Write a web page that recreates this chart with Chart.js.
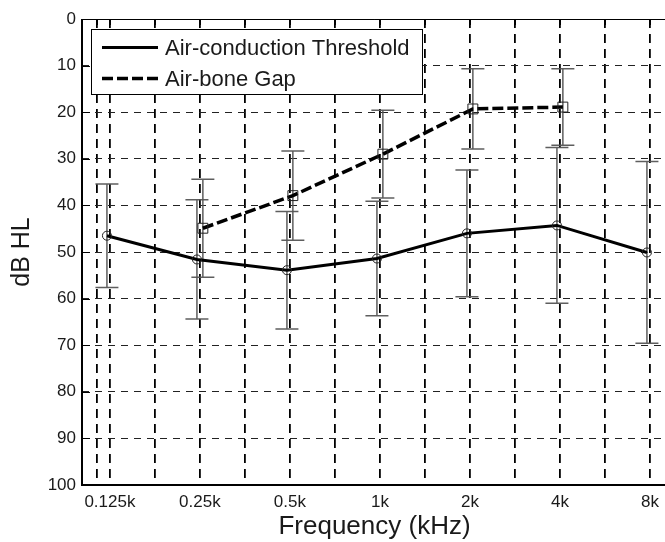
<!DOCTYPE html>
<html>
<head>
<meta charset="utf-8">
<title>Audiogram</title>
<script src="https://cdn.jsdelivr.net/npm/chart.js@4.4.0/dist/chart.umd.min.js"></script>
<style>
  html, body { margin: 0; padding: 0; overflow: hidden; background: #fff; }
</style>
</head>
<body>
<canvas id="audiogram" width="675" height="542"></canvas>
<script>
// frequencies on an octave axis: index 0 = 0.125 kHz ... 6 = 8 kHz
const frequencies = ['0.125k', '0.25k', '0.5k', '1k', '2k', '4k', '8k'];
const dbTicks = [0, 10, 20, 30, 40, 50, 60, 70, 80, 90, 100];

// air-conduction threshold, mean and standard deviation (dB HL)
const acMean = [46.5, 51.6, 53.9, 51.4, 46.0, 44.3, 50.1];
const acSD = [11.1, 12.8, 12.6, 12.3, 13.6, 16.7, 19.5];

// air-bone gap, mean and standard deviation (dB)
const gapMean = [null, 44.9, 37.9, 29.0, 19.3, 18.9, null];
const gapSD = [null, 10.5, 9.6, 9.4, 8.6, 8.2, null];

// small horizontal nudge so the two series' error bars don't overlap
const AC_SHIFT = -0.033;
const GAP_SHIFT = 0.033;

Chart.defaults.font.family = '"Liberation Sans", Arial, Helvetica, sans-serif';
Chart.defaults.color = '#1a1a1a';

function toPoints(means, shift) {
    const pts = [];
    means.forEach((v, i) => {
        if (v !== null) pts.push({ x: i + shift, y: v });
    });
    return pts;
}

// mean +/- SD whiskers, drawn under the lines
const errorBars = {
    id: 'errorBars',
    beforeDatasetsDraw(chart) {
        const { ctx, scales: { x, y } } = chart;
        const cap = 11.5;
        ctx.save();
        ctx.strokeStyle = 'rgba(85,85,85,0.95)';
        ctx.lineWidth = 1.5;
        const series = [[acMean, acSD, AC_SHIFT], [gapMean, gapSD, GAP_SHIFT]];
        series.forEach(([means, sds, shift]) => {
            means.forEach((m, i) => {
                if (m === null) return;
                const px = x.getPixelForValue(i + shift);
                const top = y.getPixelForValue(m - sds[i]);
                const bot = y.getPixelForValue(m + sds[i]);
                ctx.beginPath();
                ctx.moveTo(px, top); ctx.lineTo(px, bot);
                ctx.moveTo(px - cap, top); ctx.lineTo(px + cap, top);
                ctx.moveTo(px - cap, bot); ctx.lineTo(px + cap, bot);
                ctx.stroke();
            });
        });
        ctx.restore();
    }
};

// axes box with inward ticks, then the legend box in the upper left
const frameAndLegend = {
    id: 'frameAndLegend',
    afterDraw(chart) {
        const { ctx, chartArea: a, scales: { x, y } } = chart;
        ctx.save();
        ctx.strokeStyle = '#000';

        ctx.lineWidth = 1;
        ctx.beginPath();
        ctx.moveTo(a.left, a.top + 0.5); ctx.lineTo(a.right, a.top + 0.5);
        x.ticks.forEach(t => {
            const px = Math.round(x.getPixelForValue(t.value)) + 0.5;
            ctx.moveTo(px, a.top); ctx.lineTo(px, a.top + 6);
        });
        dbTicks.forEach(v => {
            const py = Math.round(y.getPixelForValue(v)) + 0.5;
            ctx.moveTo(a.left, py); ctx.lineTo(a.left + 8, py);
        });
        ctx.stroke();

        ctx.lineWidth = 2;
        ctx.beginPath();
        ctx.moveTo(a.left, a.top); ctx.lineTo(a.left, a.bottom);
        ctx.lineTo(a.right, a.bottom);
        ctx.stroke();

        // legend
        const lx = 91, ly = 29, lw = 331, lh = 65;
        ctx.fillStyle = '#fff';
        ctx.fillRect(lx, ly, lw, lh);
        ctx.lineWidth = 1;
        ctx.strokeRect(lx + 0.5, ly + 0.5, lw, lh);

        ctx.lineWidth = 3;
        ctx.beginPath();
        ctx.moveTo(102, 47.5); ctx.lineTo(158, 47.5);
        ctx.stroke();

        ctx.lineWidth = 3.5;
        ctx.setLineDash([11, 4]);
        ctx.beginPath();
        ctx.moveTo(102, 78.5); ctx.lineTo(158, 78.5);
        ctx.stroke();
        ctx.setLineDash([]);

        ctx.fillStyle = '#1a1a1a';
        ctx.font = '22px "Liberation Sans", Arial, sans-serif';
        ctx.textBaseline = 'alphabetic';
        ctx.textAlign = 'left';
        ctx.fillText('Air-conduction Threshold', 165, 55);
        ctx.fillText('Air-bone Gap', 165, 86);
        ctx.restore();
    }
};

new Chart(document.getElementById('audiogram'), {
    type: 'line',
    data: {
        datasets: [
            {
                label: 'Air-conduction Threshold',
                data: toPoints(acMean, AC_SHIFT),
                borderColor: '#000',
                borderWidth: 3,
                tension: 0,
                pointStyle: 'circle',
                pointRadius: 4.5,
                pointBorderWidth: 1,
                pointBorderColor: '#222',
                pointBackgroundColor: 'rgba(0,0,0,0)'
            },
            {
                label: 'Air-bone Gap',
                data: toPoints(gapMean, GAP_SHIFT),
                borderColor: '#000',
                borderWidth: 3.5,
                borderDash: [11, 4],
                tension: 0,
                pointStyle: 'rect',
                pointRadius: 7,
                pointBorderWidth: 1,
                pointBorderColor: '#222',
                pointBackgroundColor: 'rgba(0,0,0,0)'
            }
        ]
    },
    options: {
        responsive: false,
        animation: false,
        devicePixelRatio: 1,
        layout: { padding: { top: 19, right: 0, left: 0, bottom: 0 } },
        plugins: {
            legend: { display: false },
            tooltip: { enabled: false }
        },
        scales: {
            x: {
                type: 'linear',
                min: -0.31,
                max: 6.19,
                afterBuildTicks(scale) {
                    const vals = [-0.14];
                    for (let v = 0; v <= 6; v += 0.5) vals.push(v);
                    scale.ticks = vals.map(v => ({ value: v }));
                },
                afterFit(scale) { scale.height = 57; },
                ticks: {
                    autoSkip: false,
                    maxRotation: 0,
                    padding: 7,
                    font: { size: 17 },
                    callback: v => Number.isInteger(v) ? frequencies[v] : ''
                },
                grid: { color: '#000', lineWidth: 1.8, drawTicks: false },
                border: { display: false, dash: [9, 6] },
                title: {
                    display: true,
                    text: 'Frequency (kHz)',
                    font: { size: 26 },
                    padding: { top: 0, bottom: 0 }
                }
            },
            y: {
                min: 0,
                max: 100,
                reverse: true,
                afterFit(scale) { scale.width = 82; },
                ticks: {
                    stepSize: 10,
                    padding: 6,
                    font: { size: 17 }
                },
                grid: { color: '#222', lineWidth: 1, drawTicks: false },
                border: { display: false, dash: [7, 6] },
                title: {
                    display: true,
                    text: 'dB HL',
                    font: { size: 25 },
                    padding: { top: 7, bottom: 0 }
                }
            }
        }
    },
    plugins: [errorBars, frameAndLegend]
});
</script>
</body>
</html>
